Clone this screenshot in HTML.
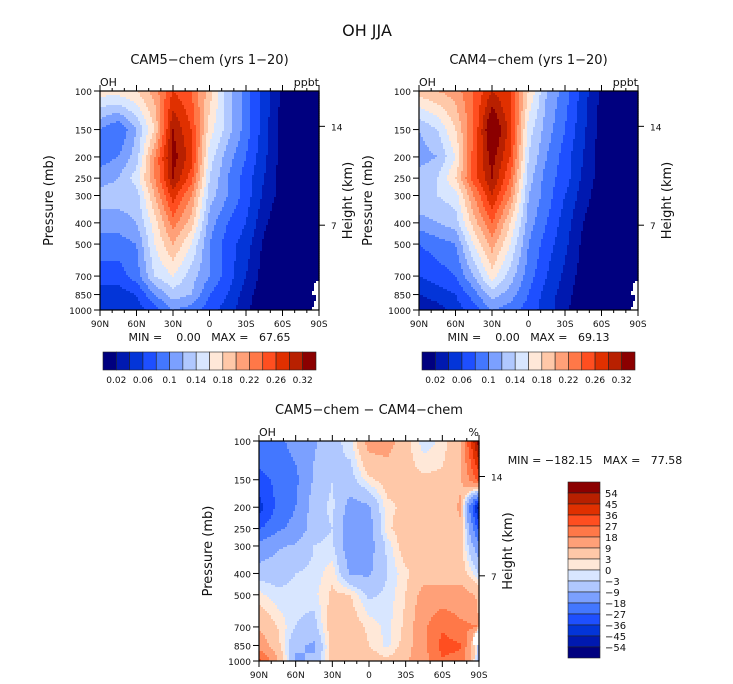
<!DOCTYPE html>
<html><head><meta charset="utf-8">
<style>
body{margin:0;background:#fff;}
svg{display:block;font-family:"DejaVu Sans","Liberation Sans",sans-serif;}
text{fill:#111;white-space:pre;}
</style></head>
<body>
<svg id="fig" width="733" height="684" viewBox="0 0 733 684">
<text x="367" y="36" font-size="16" text-anchor="middle">OH JJA</text>
</svg>
<script>
const lats=[90,75,60,45,30,15,0,-15,-30,-45,-60,-75,-90];
const levs=[100,150,200,250,300,400,500,700,850,1000];
const cam5=[
[0.17,0.17,0.18,0.21,0.26,0.24,0.19,0.13,0.09,0.05,0.015,0,0],
[0.10,0.08,0.12,0.18,0.30,0.26,0.17,0.13,0.09,0.05,0.01,0,0],
[0.09,0.10,0.13,0.22,0.31,0.27,0.15,0.11,0.08,0.045,0.01,0,0],
[0.11,0.12,0.15,0.22,0.30,0.25,0.14,0.10,0.07,0.04,0.01,0,0],
[0.13,0.13,0.13,0.20,0.27,0.22,0.13,0.10,0.07,0.035,0.01,0,0],
[0.11,0.11,0.12,0.17,0.23,0.19,0.11,0.08,0.06,0.025,0,0,0],
[0.09,0.09,0.10,0.16,0.20,0.16,0.10,0.07,0.05,0.015,0,0,0],
[0.07,0.07,0.09,0.14,0.16,0.13,0.10,0.07,0.04,0.01,0,0,0],
[0.05,0.05,0.06,0.10,0.13,0.12,0.08,0.06,0.03,0.005,0,0,null],
[0.04,0.04,0.05,0.07,0.10,0.09,0.07,0.05,0.025,0,0,0,null]];
const cam4=[
[0.19,0.20,0.21,0.24,0.28,0.26,0.18,0.12,0.09,0.05,0.015,0,0],
[0.12,0.14,0.18,0.24,0.33,0.27,0.15,0.11,0.08,0.045,0.01,0,0],
[0.11,0.12,0.16,0.25,0.31,0.26,0.14,0.10,0.07,0.04,0.01,0,0],
[0.13,0.14,0.18,0.25,0.30,0.24,0.13,0.09,0.07,0.035,0.01,0,0],
[0.14,0.14,0.15,0.22,0.28,0.22,0.12,0.09,0.06,0.03,0.005,0,0],
[0.11,0.12,0.13,0.19,0.24,0.18,0.11,0.08,0.05,0.02,0,0,0],
[0.08,0.09,0.10,0.16,0.21,0.16,0.10,0.07,0.045,0.015,0,0,0],
[0.06,0.07,0.08,0.12,0.17,0.13,0.09,0.06,0.035,0.01,0,0,0],
[0.04,0.05,0.06,0.09,0.13,0.11,0.08,0.05,0.03,0.005,0,0,null],
[0.02,0.03,0.05,0.07,0.10,0.09,0.07,0.05,0.025,0,0,0,null]];
const diff=[
[-20,-20,-15,-10,-5,-1,12,12,5,-2,1,8,60],
[-30,-25,-20,-8,-3,-5,2,5,4,4,4,8,30],
[-40,-25,-18,-5,-2,-12,-10,2,4,4,5,10,-50],
[-28,-20,-15,-5,-3,-14,-12,2,6,4,6,8,-30],
[-15,-10,-8,-3,-2,-14,-12,-2,6,6,5,5,-15],
[-5,-5,-3,-2,2,-10,-10,-3,2,6,6,6,-3],
[1,-2,-2,-1,4,3,-4,-2,3,12,12,12,8],
[8,3,-3,-5,6,6,2,-1,4,16,26,20,null],
[14,5,-8,-10,5,8,3,-1,5,16,30,28,-5],
[30,10,-10,-8,5,6,6,4,8,14,26,24,-5]];
const topLevels=[0.02,0.04,0.06,0.08,0.10,0.12,0.14,0.16,0.18,0.20,0.22,0.24,0.26,0.28,0.30];
const topLabels=["0.02","0.06","0.1","0.14","0.18","0.22","0.26","0.32"];
const diffLevels=[-54,-45,-36,-27,-18,-9,-3,0,3,9,18,27,36,45,54];
const diffLabels=["54","45","36","27","18","9","3","0","\u22123","\u22129","\u221218","\u221227","\u221236","\u221245","\u221254"];
const presTicks=[100,150,200,250,300,400,500,700,850,1000];
const latTicks=[90,60,30,0,-30,-60,-90];
const latLabels=["90N","60N","30N","0","30S","60S","90S"];
const colors=["#00007f","#0019b0","#0335d8","#1e4fff","#4377ff","#7ba0ff","#b0c8ff","#d8e6ff","#ffe8d8","#ffc8a8","#ffa078","#ff7848","#ff4e20","#e03000","#b82000","#8b0000"];
const NS="http://www.w3.org/2000/svg";
const svg=document.getElementById('fig');
function el(tag,attrs,parent){const e=document.createElementNS(NS,tag);for(const k in attrs)e.setAttribute(k,attrs[k]);(parent||svg).appendChild(e);return e;}
function txt(x,y,s,size,anchor,parent,rot){const t=el('text',{x:x,y:y,'font-size':size,'text-anchor':anchor||'start'},parent);if(rot)t.setAttribute('transform','rotate(-90 '+x+' '+y+')');t.textContent=s;return t;}
function sample(data,lat,p){
  const lp=Math.log(p);
  let i=0;while(i<levs.length-2&&p>levs[i+1])i++;
  let j=0;while(j<lats.length-2&&lat<lats[j+1])j++;
  const fy=(lp-Math.log(levs[i]))/(Math.log(levs[i+1])-Math.log(levs[i]));
  const fx=(lats[j]-lat)/(lats[j]-lats[j+1]);
  const a=data[i][j],b=data[i][j+1],c=data[i+1][j],d=data[i+1][j+1];
  if(a===null||b===null||c===null||d===null){
    if(j===lats.length-2&&fx>0.9-0.3*fy&&(i>=7)&&(i>7||fy>0.3))return null;
    const vals=[a,b,c,d].filter(v=>v!==null);
    const wsum=[[a,(1-fx)*(1-fy)],[b,fx*(1-fy)],[c,(1-fx)*fy],[d,fx*fy]].filter(q=>q[0]!==null);
    const W=wsum.reduce((s,q)=>s+q[1],0);
    if(W<1e-6)return vals.reduce((s,v)=>s+v,0)/vals.length;
    return wsum.reduce((s,q)=>s+q[0]*q[1],0)/W;
  }
  return (a*(1-fx)+b*fx)*(1-fy)+(c*(1-fx)+d*fx)*fy;
}
function colorIdx(v,levels){let k=0;while(k<levels.length&&v>=levels[k])k++;return k;}
function panel(name,data,levels,x0,y0,w,h,units,title,minmax){
  const g=el('g',{});
  
  
  const xs=lat=>x0+(90-lat)/180*w;
  const ys=p=>y0+(Math.log(p)-Math.log(100))/(Math.log(1000)-Math.log(100))*h;
  const step=2;
  for(let py=0;py<h;py+=step){
    const p=100*Math.pow(10,(py+step/2)/h);
    let runStart=0,runC=null;
    for(let px=0;px<w+step;px+=step){
      let c=null;
      if(px<w){const lat=90-Math.min(px+step/2,w)/w*180;const v=sample(data,lat,p);c=v===null?'#fff':colors[colorIdx(v,levels)];}
      if(c!==runC){
        if(runC!==null){const r=el('rect',{x:x0+runStart,y:y0+py,width:Math.min(px,w)-runStart+0.6,height:Math.min(step+0.6,h-py),fill:runC},g);
          
          }
        runStart=px;runC=c;
      }
    }
  }
  const fr=el('rect',{x:x0,y:y0,width:w,height:h,fill:'none',stroke:'#000','stroke-width':1.2},g);
  
  
  for(let lat=90;lat>=-90;lat-=10){
    const x=xs(lat),L=(lat%30===0)?6:3;
    el('line',{x1:x,y1:y0+h,x2:x,y2:y0+h+L,stroke:'#000'},g);
    el('line',{x1:x,y1:y0,x2:x,y2:y0-L,stroke:'#000'},g);
  }
  latTicks.forEach((lat,k)=>{const t=txt(xs(lat),y0+h+17,latLabels[k],9,'middle',g);
    
    });
  presTicks.forEach(p=>{const y=ys(p);el('line',{x1:x0-6,y1:y,x2:x0,y2:y,stroke:'#000'},g);
    const t=txt(x0-8,y+4,String(p),9,'end',g);
    
    });
  const hkm=[[14,ys(145)],[7,ys(410)]];
  hkm.forEach(([km,y])=>{el('line',{x1:x0+w,y1:y,x2:x0+w+6,y2:y,stroke:'#000'},g);
    const t=txt(x0+w+12,y+4,String(km),9,'start',g);
    
    });
  const yl=txt(x0-47,y0+h/2,'Pressure (mb)',13,'middle',g,true);
  
  
  const hl=txt(x0+w+33,y0+h/2,'Height (km)',13,'middle',g,true);
  
  
  const oh=txt(x0,y0-5,'OH',11,'start',g);
  
  
  const un=txt(x0+w,y0-5,units,11,'end',g);
  
  
  const tt=txt(x0+w/2,y0-27,title,13,'middle',g);
  
  
  if(minmax){const mm=txt(x0+w/2,y0+h+31,minmax,11,'middle',g);
    
    }
}
panel('cam5-panel',cam5,topLevels,100,91,219,219,'ppbt','CAM5\u2212chem (yrs 1\u221220)','MIN =    0.00   MAX =   67.65');
panel('cam4-panel',cam4,topLevels,419,91,219,219,'ppbt','CAM4\u2212chem (yrs 1\u221220)','MIN =    0.00   MAX =   69.13');
panel('diff-panel',diff,diffLevels,259,441,220,220,'%','CAM5\u2212chem \u2212 CAM4\u2212chem',null);
const mm=txt(595,464,'MIN = \u2212182.15   MAX =   77.58',11,'middle');


function hbar(name,x0,y0,w,h){
  const g=el('g',{});
  
  
  const bw=w/colors.length;
  colors.forEach((c,k)=>{const r=el('rect',{x:x0+k*bw,y:y0,width:bw,height:h,fill:c,stroke:'#222','stroke-width':0.6},g);
    
    });
  topLabels.forEach((s,k)=>{const b=k<7?1+2*k:15;const t=txt(x0+b*bw,y0+h+13,s,9,'middle',g);
    
    });
}
hbar('cam5-colorbar',103,352,213,18);
hbar('cam4-colorbar',422,352,213,18);
(function(){
  const g=el('g',{});
  
  
  const x0=568,y0=482,w=32,h=176,bh=h/colors.length;
  colors.slice().reverse().forEach((c,k)=>{const r=el('rect',{x:x0,y:y0+k*bh,width:w,height:bh,fill:c,stroke:'#222','stroke-width':0.6},g);
    
    });
  diffLabels.forEach((s,k)=>{const t=txt(x0+w+5,y0+(k+1)*bh+4,s,10,'start',g);
    
    });
})();
</script>
</body></html>
